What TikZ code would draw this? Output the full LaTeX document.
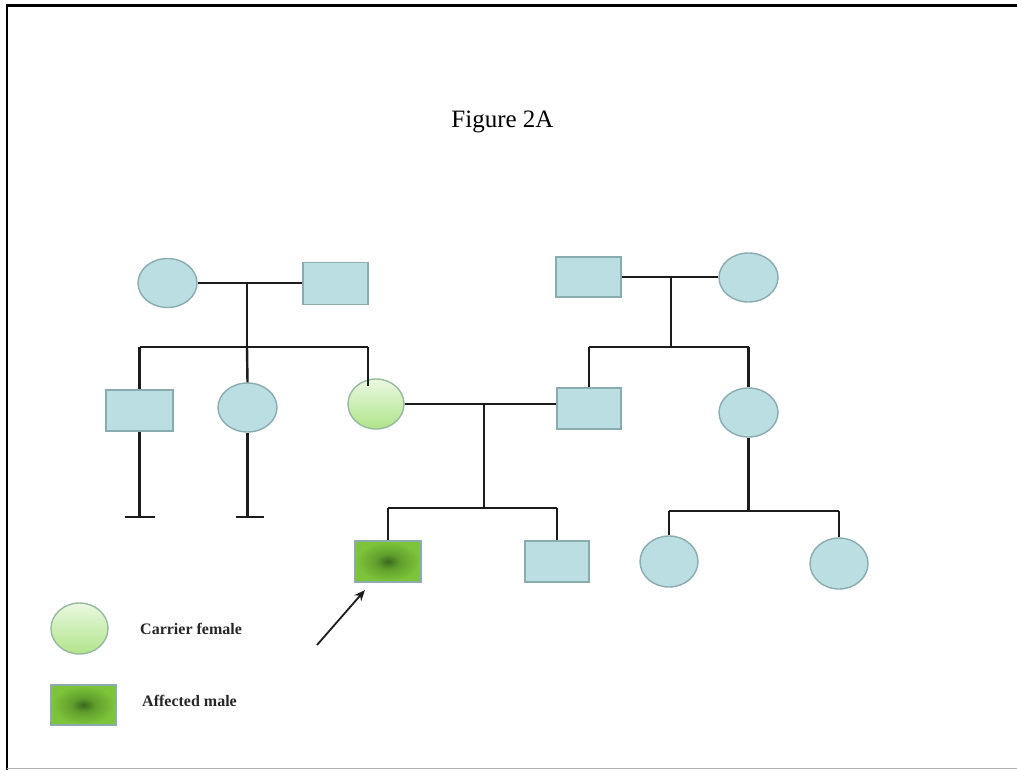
\documentclass[tikz,border=0pt]{standalone}
\usepackage{fontspec}
\setmainfont{Liberation Serif}
\usetikzlibrary{shapes.geometric,arrows.meta,calc}
\definecolor{pblue}{RGB}{187,222,226}
\definecolor{pedge}{RGB}{138,172,175}
\definecolor{lnk}{RGB}{28,28,28}
\definecolor{affout}{RGB}{125,196,58}
\definecolor{affmid}{RGB}{96,158,44}
\definecolor{affin}{RGB}{56,104,30}
\definecolor{cartop}{RGB}{234,248,224}
\definecolor{carbot}{RGB}{176,228,138}
\definecolor{carborder}{RGB}{150,185,160}
\pgfdeclareradialshading{affshade}{\pgfpoint{0bp}{0bp}}{color(0bp)=(affin); color(9bp)=(affmid); color(24bp)=(affout); color(50bp)=(affout)}
\tikzset{
  female/.style={ellipse, draw=pedge, fill=pblue, line width=1.4pt, minimum width=59pt, minimum height=49pt, inner sep=0pt},
  male/.style={rectangle, draw=pedge, fill=pblue, line width=1.4pt, minimum width=65pt, minimum height=41pt, inner sep=0pt},
  carrier/.style={ellipse, draw=carborder, top color=cartop, bottom color=carbot, line width=1.4pt, minimum width=56pt, minimum height=50pt, inner sep=0pt},
  affected/.style={rectangle, draw=pedge, shading=affshade, line width=1.4pt, minimum width=66pt, minimum height=41pt, inner sep=0pt},
  link/.style={draw=lnk, line width=2.4pt},
  legendtext/.style={anchor=west, font=\fontsize{16}{18}\selectfont\bfseries, text=black!85, inner sep=0pt},
}
\begin{document}
\begin{tikzpicture}[x=1pt,y=-1pt]
\useasboundingbox (0,0) rectangle (1017,770);
% frame
\draw[line width=2.4pt, black] (7,770) -- (7,5.5) -- (1017,5.5);
\draw[line width=1.5pt, black!30] (7,768.5) -- (1017,768.5);
% title
\node[anchor=base, font=\fontsize{25}{28}\selectfont, inner sep=0pt] (title) at (502.5,128) {Figure 2A};
% generation I
\node[female] (g1a) at (167.5,283) {};
\node[male, minimum height=42pt] (g1b) at (335.5,283.5) {};
\node[male, minimum height=40pt] (g1c) at (588.5,277) {};
\node[female] (g1d) at (748.5,277.5) {};
% generation II
\node[male, minimum width=67pt] (g2a) at (139.5,410.5) {};
\node[female] (g2b) at (247.5,407.5) {};
\node[carrier] (g2c) at (376,404) {};
\node[male, minimum width=64pt] (g2d) at (589,408.5) {};
\node[female] (g2e) at (748.5,412.5) {};
% generation III
\node[affected] (g3a) at (388,561.5) {};
\node[male, minimum width=64pt] (g3b) at (557,561.5) {};
\node[female, minimum width=58pt, minimum height=51pt] (g3c) at (669,561.5) {};
\node[female, minimum width=58pt, minimum height=51pt] (g3d) at (839,563.5) {};
% legend
\node[carrier, minimum width=57pt, minimum height=51pt] (lc) at (79.5,628.5) {};
\node[affected, minimum width=65pt, minimum height=40pt] (la) at (83.5,705) {};
\node[legendtext] (lct) at (140,629) {Carrier female};
\node[legendtext] (lat) at (142,701) {Affected male};
% coordinates
\coordinate (m1) at (247,283);
\coordinate (s1) at (247,347);
\coordinate (s1l) at (139.5,347);
\coordinate (s1r) at (368,347);
\coordinate (s1e) at (368,386);
\coordinate (t1) at (139.5,517);
\coordinate (t1l) at (125,517);
\coordinate (t1r) at (155,517);
\coordinate (t2) at (247.5,517);
\coordinate (t2l) at (236,517);
\coordinate (t2r) at (264,517);
\coordinate (m2) at (671,277);
\coordinate (s2) at (671,347);
\coordinate (s2l) at (589,347);
\coordinate (s2r) at (748.5,347);
\coordinate (m3) at (484,404);
\coordinate (s3) at (484,508);
\coordinate (s3l) at (388,508);
\coordinate (s3r) at (557,508);
\coordinate (s4) at (748.5,511);
\coordinate (s4l) at (669,511);
\coordinate (s4r) at (839,511);
\coordinate (arrtail) at (317,645);
\coordinate (arrtip) at (365,590);
% left family
\draw[link] (g1a.east |- m1) -- (m1) -- (g1b.west |- m1);
\draw[link] (m1) -- (s1);
\draw[link] (s1l) -- (s1r);
\draw[link] (s1l) -- (g2a.north);
\draw[link] (s1) -- (g2b.north);
\draw[link] (s1r) -- (s1e);
\draw[link] (g2a.south) -- (t1);
\draw[link] (t1l) -- (t1r);
\draw[link] (g2b.south) -- (t2);
\draw[link] (t2l) -- (t2r);
% right family
\draw[link] (g1c.east |- m2) -- (m2) -- (g1d.west |- m2);
\draw[link] (m2) -- (s2);
\draw[link] (s2l) -- (s2r);
\draw[link] (s2l) -- (g2d.north);
\draw[link] (s2r) -- (g2e.north);
% marriage of generation II
\draw[link] (g2c.east) -- (m3) -- (g2d.west |- m3);
\draw[link] (m3) -- (s3);
\draw[link] (s3l) -- (s3r);
\draw[link] (s3l) -- (g3a.north);
\draw[link] (s3r) -- (g3b.north);
% right sibship
\draw[link] (g2e.south) -- (s4);
\draw[link] (s4l) -- (s4r);
\draw[link] (s4l) -- (g3c.north);
\draw[link] (s4r) -- (g3d.north);
% proband arrow
\draw[draw=lnk, line width=1.8pt, -{Stealth[length=11pt,width=9pt]}] (arrtail) -- (arrtip);
\end{tikzpicture}
\end{document}
